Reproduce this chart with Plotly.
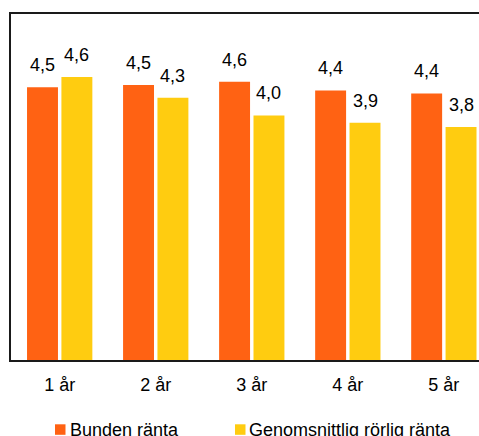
import plotly.graph_objects as go

# Interest rates by fixed term (percent)
categories = ["1 år", "2 år", "3 år", "4 år", "5 år"]
bunden = [4.47, 4.51, 4.56, 4.42, 4.37]
rorlig = [4.64, 4.30, 4.01, 3.89, 3.82]
series_names = ["Bunden ränta", "Genomsnittlig rörlig ränta"]
series_colors = ["#FF6213", "#FFCC10"]

W, H = 479, 436
L, R, T, B = 11, 0, 14, 76
plot_w = W - L - R
plot_h = H - T - B
px_per_unit = 61.0
px_per_cat = 96.04
FONT = "Liberation Sans, Arial, sans-serif"


def fmt(v):
    return f"{v:.1f}".replace(".", ",")


fig = go.Figure()
for name, vals, col in zip(series_names, [bunden, rorlig], series_colors):
    fig.add_trace(go.Bar(x=categories, y=vals, name=name,
                         marker=dict(color=col, line=dict(width=0)),
                         showlegend=False, hoverinfo="skip"))

# value labels above each bar
annotations = []
for vals, dx in [(bunden, -17.2), (rorlig, 17.2)]:
    for c, v in zip(categories, vals):
        annotations.append(dict(x=c, y=v, xref="x", yref="y", text=fmt(v),
                                showarrow=False, xanchor="center", yanchor="bottom",
                                xshift=dx, yshift=10,
                                font=dict(family=FONT, size=18, color="#000")))

# legend drawn below the plot
def px_x(p):
    return (p - L) / plot_w


def px_y(p):
    return (T + plot_h - p) / plot_h


shapes = []
legend_items = [(55, 69, series_names[0], series_colors[0]),
                (235, 248.5, series_names[1], series_colors[1])]
for sx, tx, name, col in legend_items:
    shapes.append(dict(type="rect", xref="paper", yref="paper",
                       x0=px_x(sx), x1=px_x(sx + 10.5), y0=px_y(424.3), y1=px_y(434.8),
                       fillcolor=col, line=dict(width=0)))
    annotations.append(dict(x=px_x(tx - 1.5), y=px_y(429.5), xref="paper", yref="paper",
                            text=name, showarrow=False, xanchor="left", yanchor="middle",
                            font=dict(family=FONT, size=18, color="#000")))

x0 = -0.5 - (L - 10.33) / px_per_cat
x1 = x0 + plot_w / px_per_cat

fig.update_layout(
    width=W, height=H,
    margin=dict(l=L, r=R, t=T, b=B, pad=0),
    paper_bgcolor="white", plot_bgcolor="white",
    barmode="group", bargap=0.284, bargroupgap=0.1,
    font=dict(family=FONT, size=18, color="#000"),
    xaxis=dict(range=[x0, x1], showline=True, linecolor="#1a1a1a", linewidth=2,
               mirror=True, ticks="", showgrid=False, zeroline=False,
               tickfont=dict(family=FONT, size=18, color="#000"),
               ticklabelstandoff=7),
    yaxis=dict(range=[0, plot_h / px_per_unit], showline=True, linecolor="#1a1a1a",
               linewidth=2, mirror=False, showticklabels=False, ticks="",
               showgrid=False, zeroline=False),
    annotations=annotations,
    shapes=shapes,
)

fig.write_html("out.html")
